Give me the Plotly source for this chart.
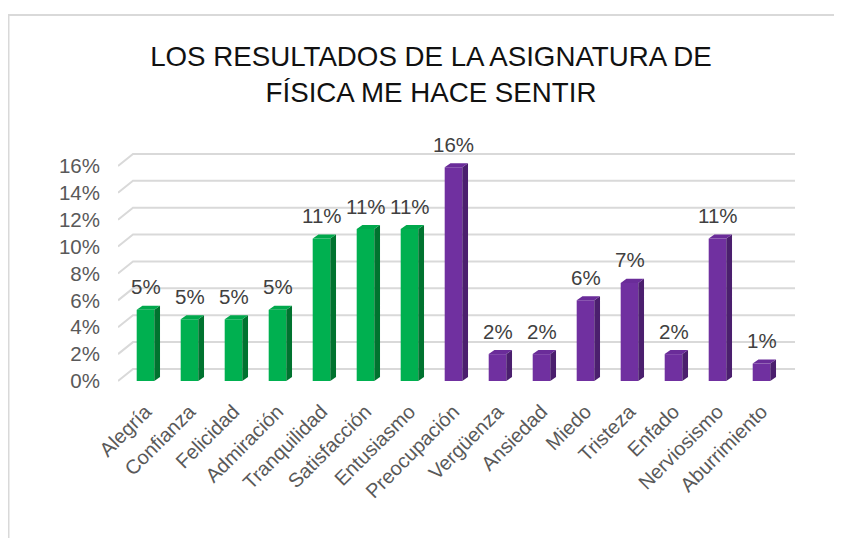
import plotly.graph_objects as go

categories = ["Alegría", "Confianza", "Felicidad", "Admiración", "Tranquilidad",
              "Satisfacción", "Entusiasmo", "Preocupación", "Vergüenza", "Ansiedad",
              "Miedo", "Tristeza", "Enfado", "Nerviosismo", "Aburrimiento"]
values = [5.3, 4.6, 4.6, 5.3, 10.6, 11.3, 11.3, 15.9, 2.0, 2.0, 6.0, 7.3, 2.0, 10.6, 1.3]
groups = ["pos"] * 7 + ["neg"] * 8
y_ticks = [0, 2, 4, 6, 8, 10, 12, 14, 16]
y_ticklabels = [f"{t}%" for t in y_ticks]

colors = {
    "pos": {"front": "#00B050", "side": "#00732F", "top": "#00A84C"},
    "neg": {"front": "#7030A0", "side": "#4B1F6E", "top": "#6A2C99"},
}

FONT = "Liberation Sans, Arial"

# geometry of the pseudo-3D look (in data units)
W = 0.40      # bar front width (category units)
DX = 0.13     # depth offset x
DY = 0.30     # depth offset y (%)
BX0, BX1 = -0.625, 14.875   # x range
WALL_DX = 15 / 44
WALL_DY = 12 / 13.44
YR = [-0.67, 17.93]

ML, MR, MT, MB = 110, 50, 132, 156
PW = 842 - ML - MR
PH = 538 - MT - MB

xs = list(range(len(categories)))
fig = go.Figure()

for g in ["pos", "neg"]:
    idx = [i for i in xs if groups[i] == g]
    fig.add_trace(go.Bar(
        x=idx, y=[values[i] for i in idx], width=W,
        marker=dict(color=colors[g]["front"], line=dict(width=0)),
        hoverinfo="skip", showlegend=False))
    sx, sy, tx, ty = [], [], [], []
    for i in idx:
        v = values[i]
        r = i + W / 2
        l = i - W / 2
        sx += [r, r + DX, r + DX, r, r, None]
        sy += [0, DY, v + DY, v, 0, None]
        tx += [l, l + DX, r + DX, r, l, None]
        ty += [v, v + DY, v + DY, v, v, None]
    fig.add_trace(go.Scatter(x=sx, y=sy, mode="lines", fill="toself",
                             fillcolor=colors[g]["side"], line=dict(width=0),
                             hoverinfo="skip", showlegend=False))
    fig.add_trace(go.Scatter(x=tx, y=ty, mode="lines", fill="toself",
                             fillcolor=colors[g]["top"], line=dict(width=0),
                             hoverinfo="skip", showlegend=False))

# gridlines with 3D wall stub
for t in y_ticks:
    fig.add_shape(type="path", xref="x", yref="y", layer="below",
                  path=f"M {BX0},{t} L {BX0 + WALL_DX},{t + WALL_DY} L {BX1 - 5/44},{t + WALL_DY}",
                  line=dict(color="#D9D9D9", width=2))

# data labels
for i, v in zip(xs, values):
    fig.add_annotation(x=i, y=v, text=f"{round(v):.0f}%", showarrow=False,
                       xref="x", yref="y", yshift=23,
                       font=dict(family=FONT, size=20.5, color="#404040"))

# outer border
fig.add_shape(type="rect", xref="paper", yref="paper", layer="below",
              x0=(0.5 - ML) / PW, x1=1.3, y0=-0.9, y1=(538 - MB - 7) / PH,
              line=dict(color="#D9D9D9", width=2), fillcolor="rgba(0,0,0,0)")

fig.update_layout(
    width=842, height=538,
    margin=dict(l=ML, r=MR, t=MT, b=MB, autoexpand=False),
    paper_bgcolor="white", plot_bgcolor="rgba(0,0,0,0)",
    title=dict(text="LOS RESULTADOS DE LA ASIGNATURA DE<br>FÍSICA ME HACE SENTIR",
               x=423 / 842, xanchor="center", xref="container",
               y=1 - 58 / 538, yanchor="top", yref="container",
               font=dict(family=FONT, size=27.7, color="#111111")),
    barmode="overlay",
    xaxis=dict(range=[BX0, BX1], tickmode="array", tickvals=xs, ticktext=categories,
               tickangle=-45, showgrid=False, zeroline=False, showline=False,
               ticks="", ticklabelstandoff=5, automargin=False,
               tickfont=dict(family=FONT, size=20, color="#595959")),
    yaxis=dict(range=YR, tickmode="array", tickvals=y_ticks, ticktext=y_ticklabels,
               showgrid=False, zeroline=False, showline=False, ticks="",
               ticklabelstandoff=17, automargin=False,
               tickfont=dict(family=FONT, size=20.5, color="#595959")),
    font=dict(family=FONT),
)

fig.write_html("out.html")
